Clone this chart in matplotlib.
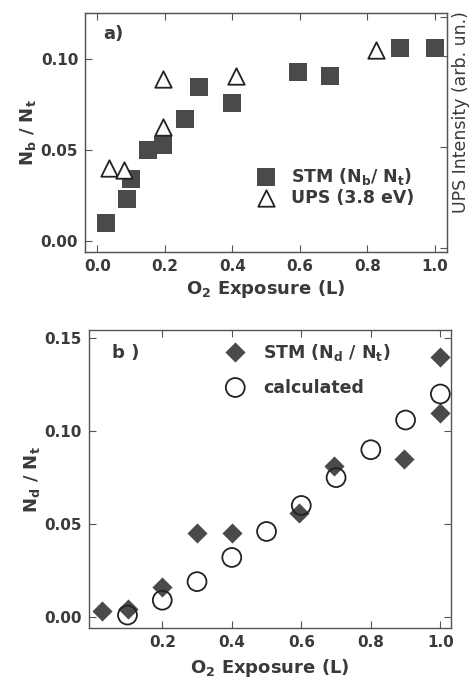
import matplotlib
matplotlib.use("Agg")
import matplotlib.pyplot as plt

# panel a data
stm_b_x = [0.027, 0.088, 0.10, 0.149, 0.196, 0.26, 0.302, 0.40, 0.596, 0.69, 0.896, 1.0]
stm_b_y = [0.010, 0.023, 0.034, 0.050, 0.053, 0.067, 0.085, 0.076, 0.093, 0.091, 0.106, 0.106]
ups_x = [0.034, 0.08, 0.196, 0.196, 0.411, 0.825]
ups_y = [0.040, 0.039, 0.089, 0.063, 0.091, 0.105]

# panel b data
stm_d_x = [0.026, 0.10, 0.20, 0.30, 0.40, 0.594, 0.694, 0.895, 1.0, 1.0]
stm_d_y = [0.003, 0.004, 0.016, 0.045, 0.045, 0.056, 0.081, 0.085, 0.140, 0.110]
calc_x = [0.1, 0.2, 0.3, 0.4, 0.5, 0.6, 0.7, 0.8, 0.9, 1.0]
calc_y = [0.001, 0.009, 0.019, 0.032, 0.046, 0.060, 0.075, 0.090, 0.106, 0.120]

xticks_a = [0.0, 0.2, 0.4, 0.6, 0.8, 1.0]
xticks_b = [0.2, 0.4, 0.6, 0.8, 1.0]
yticks_a = [0.00, 0.05, 0.10]
yticks_b = [0.00, 0.05, 0.10, 0.15]

plt.rcParams['font.family'] = ['DejaVu Sans']
plt.rcParams['font.weight'] = 'bold'
plt.rcParams['axes.labelweight'] = 'bold'
plt.rcParams['mathtext.fontset'] = 'custom'
plt.rcParams['mathtext.rm'] = 'DejaVu Sans:bold'
plt.rcParams['mathtext.it'] = 'DejaVu Sans:bold'
plt.rcParams['mathtext.bf'] = 'DejaVu Sans:bold'
plt.rcParams['mathtext.default'] = 'rm'

txt = '#3a3a3a'
mk = '#4a4a4a'
spine = '#555555'

fig = plt.figure(figsize=(4.73, 6.81), dpi=100)
ax1 = fig.add_axes([0.180, 0.630, 0.765, 0.351])
ax2 = fig.add_axes([0.188, 0.078, 0.765, 0.437])

def style(ax, xt, yt):
    for s in ax.spines.values():
        s.set_color(spine)
        s.set_linewidth(1.0)
    ax.set_xticks(xt)
    ax.set_yticks(yt)
    ax.set_xticklabels(['%.1f' % v for v in xt])
    ax.set_yticklabels(['%.2f' % v for v in yt])
    ax.tick_params(direction='in', length=5, width=0.8, color=spine,
                   labelsize=11, labelcolor=txt, top=True, pad=5)

# panel a
ax1.scatter(stm_b_x, stm_b_y, marker='s', s=150, color=mk, linewidths=0, zorder=3)
ax1.scatter(ups_x, ups_y, marker='^', s=140, facecolors='white', edgecolors='#222222',
            linewidths=1.3, zorder=4)
ax1.set_xlim(-0.036, 1.036)
ax1.set_ylim(-0.006, 0.1255)
style(ax1, xticks_a, yticks_a)
ax1.tick_params(axis='y', right=False)
ax1.set_xlabel('O$_2$ Exposure (L)', fontsize=13, color=txt, labelpad=3)
ax1.set_ylabel('N$_b$ / N$_t$', fontsize=13, color=txt, labelpad=2)
ax1.text(0.05, 0.95, 'a)', transform=ax1.transAxes, fontsize=13, color=txt, va='top')

# right axis for UPS intensity (arbitrary units)
ax1r = ax1.twinx()
ax1r.set_ylim(0, 1)
ax1r.set_yticks([0.017, 0.44, 0.82, 0.985])
ax1r.set_yticklabels([])
ax1r.tick_params(direction='in', length=5, width=0.8, color=spine)
for s in ax1r.spines.values():
    s.set_color(spine)
fig.text(0.975, 0.835, 'UPS Intensity (arb. un.)', rotation=90, fontsize=12.5,
         color=txt, ha='center', va='center', fontweight='normal')

# legend a, built by hand
ax1.scatter([0.50], [0.0355], marker='s', s=150, color=mk, linewidths=0)
ax1.scatter([0.50], [0.0235], marker='^', s=140, facecolors='white', edgecolors='#222222',
            linewidths=1.3)
ax1.text(0.575, 0.0355, 'STM (N$_b$/ N$_t$)', fontsize=12.5, color=txt, va='center')
ax1.text(0.575, 0.0235, 'UPS (3.8 eV)', fontsize=12.5, color=txt, va='center')

# panel b
ax2.scatter(stm_d_x, stm_d_y, marker='D', s=105, color=mk, linewidths=0, zorder=3)
ax2.scatter(calc_x, calc_y, marker='o', s=185, facecolors='none', edgecolors='#222222',
            linewidths=1.3, zorder=4)
ax2.set_xlim(-0.011, 1.030)
ax2.set_ylim(-0.0059, 0.1543)
style(ax2, xticks_b, yticks_b)
ax2.tick_params(axis='y', right=True)
ax2.set_xlabel('O$_2$ Exposure (L)', fontsize=13, color=txt, labelpad=5)
ax2.set_ylabel('N$_d$ / N$_t$', fontsize=13, color=txt, labelpad=2)
ax2.text(0.065, 0.955, 'b )', transform=ax2.transAxes, fontsize=13, color=txt, va='top')

# legend b
ax2.scatter([0.41], [0.1425], marker='D', s=105, color=mk, linewidths=0)
ax2.scatter([0.41], [0.1235], marker='o', s=185, facecolors='none', edgecolors='#222222',
            linewidths=1.3)
ax2.text(0.49, 0.1425, 'STM (N$_d$ / N$_t$)', fontsize=12.5, color=txt, va='center')
ax2.text(0.49, 0.1235, 'calculated', fontsize=12.5, color=txt, va='center')

fig.savefig('out.png', dpi=100)
